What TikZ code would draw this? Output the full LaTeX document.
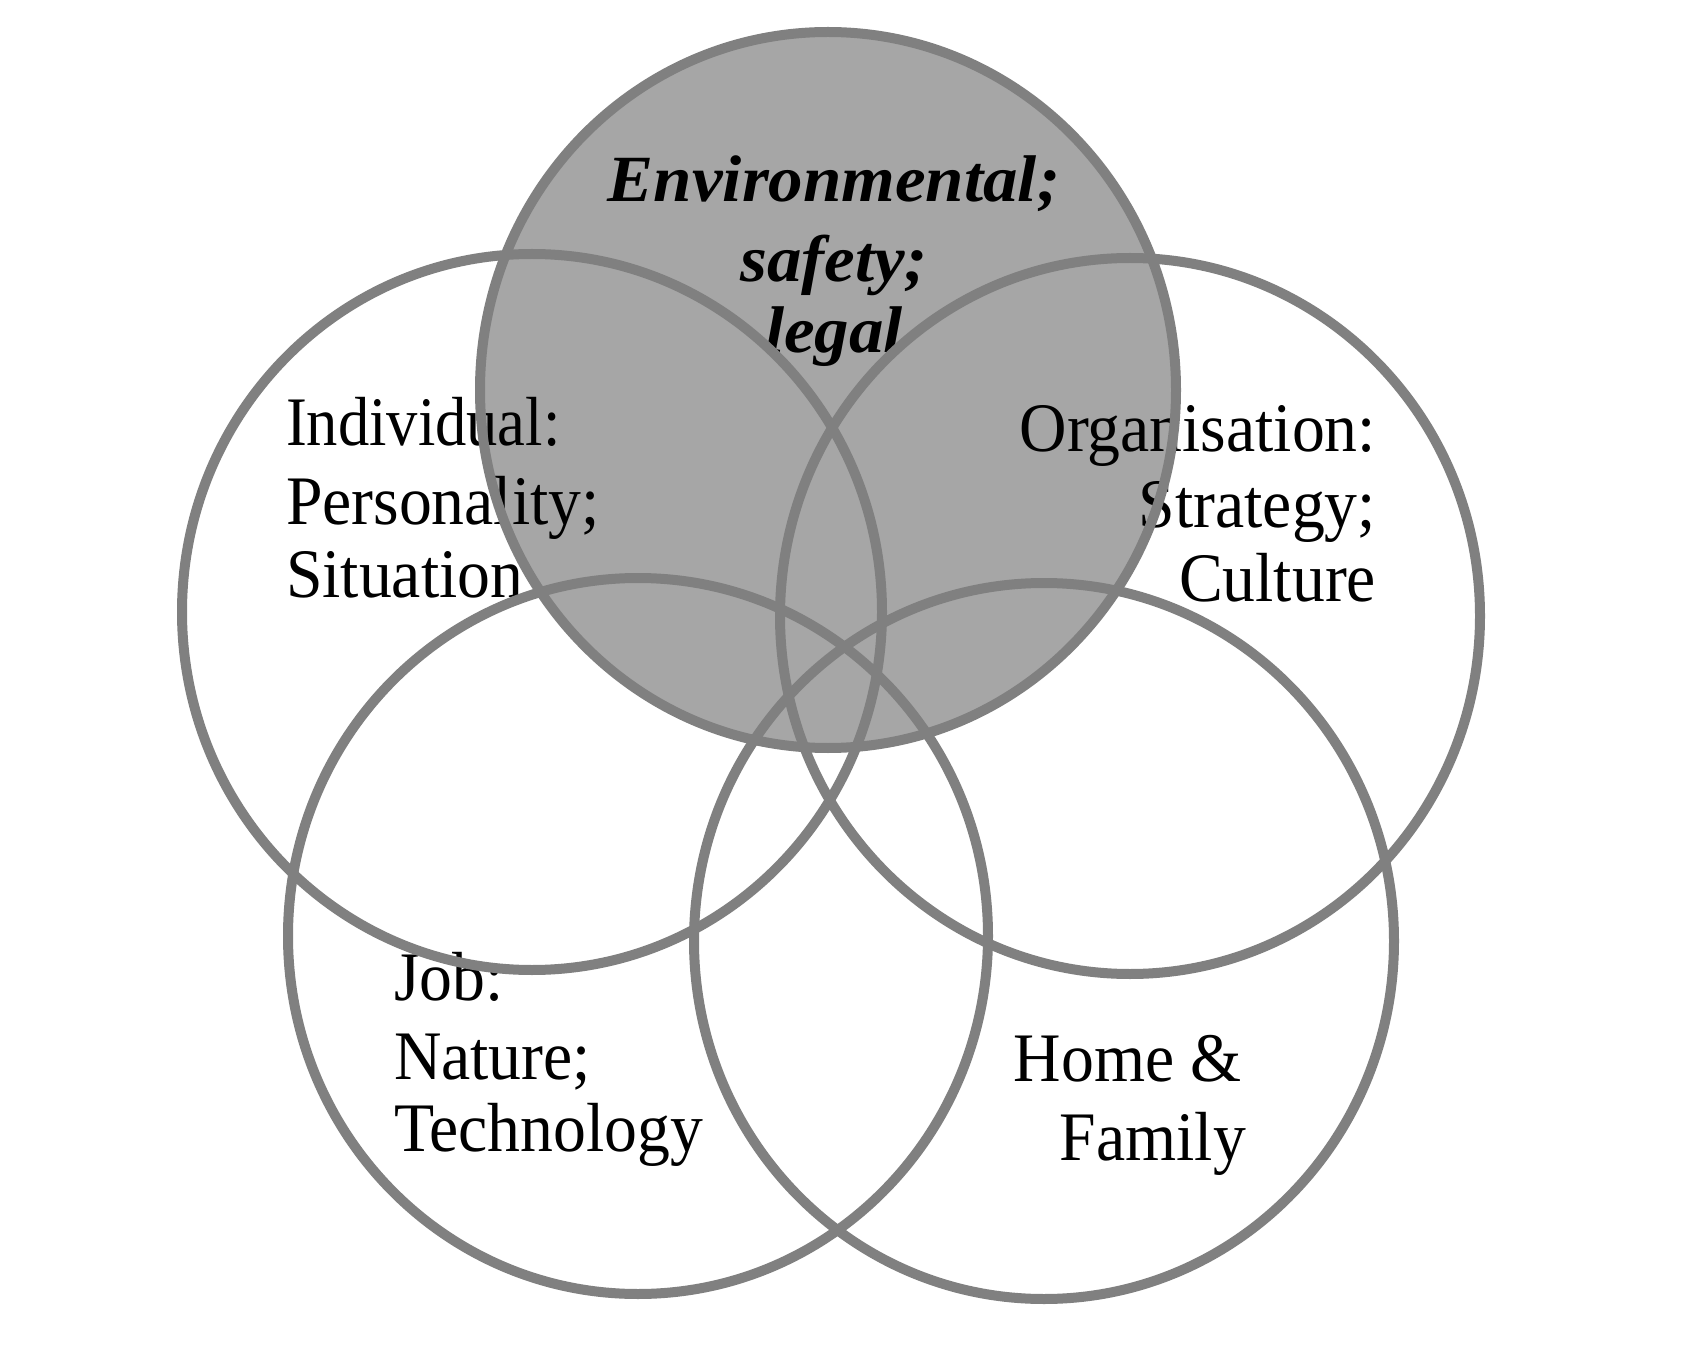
\documentclass[tikz,border=0pt]{standalone}
\usepackage{fontspec}
\usepackage{graphicx}
\setmainfont{Liberation Serif}
\definecolor{ringgray}{RGB}{128,128,128}
\definecolor{fillgray}{RGB}{166,166,166}
\newcommand{\condtext}[1]{\scalebox{0.945}[1]{#1}}
\newcommand{\narrowtext}[1]{\scalebox{0.9}[1]{#1}}
\newcommand{\condbold}[1]{\scalebox{1.045}[1]{#1}}
\tikzset{
  ring/.style={draw=ringgray, line width=5pt},
  lbl/.style={inner sep=0pt, outer sep=0pt, font=\fontsize{34.75}{38}\selectfont},
  envlbl/.style={inner sep=0pt, outer sep=0pt, font=\fontsize{33}{38}\selectfont\bfseries\itshape}
}
\begin{document}
\begin{tikzpicture}[x=0.5pt, y=-0.5pt]
\useasboundingbox (0,0) rectangle (1698,1353);
\fill[white] (0,0) rectangle (1698,1353);
% filled top circle
\fill[fillgray] (828,390) ellipse [x radius=348, y radius=358];
% texts
\node[envlbl, anchor=base] (env1) at (834,202) {\condbold{Environmental;}};
\node[envlbl, anchor=base] (env2) at (834,282) {\condbold{safety;}};
\node[envlbl, anchor=base] (env3) at (834,353) {\condbold{legal}};
\node[lbl, anchor=base west] (ind1) at (286,446) {\narrowtext{Individual:}};
\node[lbl, anchor=base west] (ind2) at (286,524) {\condtext{Personality;}};
\node[lbl, anchor=base west] (ind3) at (286,597) {\condtext{Situation}};
\node[lbl, anchor=base east] (org1) at (1376,452) {\condtext{Organisation:}};
\node[lbl, anchor=base east] (org2) at (1376,528) {\condtext{Strategy;}};
\node[lbl, anchor=base east] (org3) at (1376,601) {\condtext{Culture}};
\node[lbl, anchor=base west] (job1) at (394,1000) {\condtext{Job:}};
\node[lbl, anchor=base west] (job2) at (394,1079) {\condtext{Nature;}};
\node[lbl, anchor=base west] (job3) at (394,1151) {\condtext{Technology}};
\node[lbl, anchor=base east] (home1) at (1242,1081) {\condtext{Home \&}};
\node[lbl, anchor=base east] (home2) at (1246,1160) {\condtext{Family}};
% ring outlines
\draw[ring] (828,390) ellipse [x radius=348, y radius=358];
\draw[ring] (532,612) ellipse [x radius=350, y radius=358];
\draw[ring] (1130,616) ellipse [x radius=350, y radius=358];
\draw[ring] (638,936) ellipse [x radius=350, y radius=358];
\draw[ring] (1044,941) ellipse [x radius=350, y radius=358];
\end{tikzpicture}
\end{document}
